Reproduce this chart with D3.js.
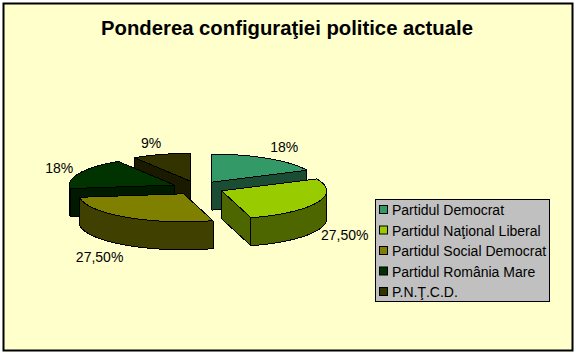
<!DOCTYPE html>
<html>
<head>
<meta charset="utf-8">
<script src="https://cdn.jsdelivr.net/npm/d3@7"></script>
<style>
  html, body { margin: 0; padding: 0; background: #fff; }
  svg { display: block; }
  text { font-family: "Liberation Sans", Arial, sans-serif; fill: #000; }
</style>
</head>
<body>
<div id="chart"></div>
<script>
var parties = ['Partidul Democrat', 'Partidul Naţional Liberal', 'Partidul Social Democrat', 'Partidul România Mare', 'P.N.Ţ.C.D.'];
var shares = [18, 27.5, 27.5, 18, 9];
var shareLabels = ['18%', '27,50%', '27,50%', '18%', '9%'];
var topColors = ['#339966', '#99cc00', '#808000', '#003300', '#333300'];
var sideColors = ['#1a4d33', '#4d6600', '#404000', '#001a00', '#1a1a00'];

var width = 576;
var height = 354;

// pie geometry, fitted to the reference
var cx = 198, cy = 188;
var rx = 105, ry = 28;
var depth = 28;
var explode = 26;
var labelRx = 135, labelRy = 40;
var labelNudgeX = [0, 0, -10, 7, -2];
var labelNudgeY = [-1, 0, 2, 0, 0];

var svg = d3.select('#chart')
  .append('svg')
  .attr('width', width)
  .attr('height', height);

svg.append('rect')
  .attr('x', 3.5)
  .attr('y', 3.5)
  .attr('width', 569)
  .attr('height', 347)
  .attr('fill', '#ffffcc')
  .attr('stroke', '#000')
  .attr('stroke-width', 2);

svg.append('text')
  .attr('x', 287)
  .attr('y', 35)
  .attr('text-anchor', 'middle')
  .attr('font-size', 20.3)
  .attr('font-weight', 'bold')
  .text('Ponderea configuraţiei politice actuale');

var pie = d3.pie().sort(null);
var slices = pie(shares).map(function (d, i) {
  var mid = (d.startAngle + d.endAngle) / 2;
  return {
    index: i,
    start: d.startAngle,
    end: d.endAngle,
    mid: mid,
    x: cx + explode * Math.sin(mid),
    y: cy - explode * (ry / rx) * Math.cos(mid)
  };
});

var line = d3.line();

function rim (s, a, drop) {
  return [s.x + rx * Math.sin(a), s.y - ry * Math.cos(a) + drop];
}

function arcAngles (from, to) {
  var step = Math.PI / 180;
  return d3.range(from, to, step).concat([to]);
}

function topPath (s) {
  var pts = arcAngles(s.start, s.end).map(function (a) { return rim(s, a, 0); });
  return line([[s.x, s.y]].concat(pts)) + 'Z';
}

function radialWall (s, a) {
  return line([[s.x, s.y], rim(s, a, 0), rim(s, a, depth), [s.x, s.y + depth]]) + 'Z';
}

function outerWall (s) {
  var from = Math.max(s.start, Math.PI / 2);
  var to = Math.min(s.end, Math.PI * 3 / 2);
  if (from >= to) return null;
  var angles = arcAngles(from, to);
  var upper = angles.map(function (a) { return rim(s, a, 0); });
  var lower = angles.slice().reverse().map(function (a) { return rim(s, a, depth); });
  return line(upper.concat(lower)) + 'Z';
}

// back slices first, so the nearer ones cover them
var order = slices.slice().sort(function (a, b) { return a.y - b.y; });

var groups = svg.selectAll('.slice')
  .data(order)
  .enter()
  .append('g')
  .attr('class', 'slice')
  .attr('stroke', '#000')
  .attr('stroke-width', 1)
  .attr('stroke-linejoin', 'round')
  .attr('shape-rendering', 'crispEdges');

groups.each(function (s) {
  var g = d3.select(this);
  var side = sideColors[s.index];
  if (Math.sin(s.start) < -1e-6) {
    g.append('path').attr('d', radialWall(s, s.start)).attr('fill', side);
  }
  if (Math.sin(s.end) > 1e-6) {
    g.append('path').attr('d', radialWall(s, s.end)).attr('fill', side);
  }
  var outer = outerWall(s);
  if (outer) {
    g.append('path').attr('d', outer).attr('fill', side);
  }
  g.append('path').attr('d', topPath(s)).attr('fill', topColors[s.index]);
});

svg.selectAll('.share')
  .data(slices)
  .enter()
  .append('text')
  .attr('class', 'share')
  .attr('text-anchor', 'middle')
  .attr('font-size', 14)
  .attr('x', function (s) { return s.x + labelRx * Math.sin(s.mid) + labelNudgeX[s.index]; })
  .attr('y', function (s) {
    var c = Math.cos(s.mid);
    return s.y - labelRy * c + (c < 0 ? depth : 0) + 5 + labelNudgeY[s.index];
  })
  .text(function (s) { return shareLabels[s.index]; });

// legend
var legend = svg.append('g').attr('transform', 'translate(375,199)');

legend.append('rect')
  .attr('x', 0.5)
  .attr('y', 0.5)
  .attr('width', 174)
  .attr('height', 102)
  .attr('fill', '#c0c0c0')
  .attr('stroke', '#000');

var rowY = d3.scalePoint()
  .domain(parties)
  .range([11, 93]);

var rows = legend.selectAll('.row')
  .data(parties)
  .enter()
  .append('g')
  .attr('class', 'row')
  .attr('transform', function (d) { return 'translate(0,' + rowY(d) + ')'; });

rows.append('rect')
  .attr('x', 4.5)
  .attr('y', -4.5)
  .attr('width', 8)
  .attr('height', 8)
  .attr('fill', function (d, i) { return topColors[i]; })
  .attr('stroke', '#000');

rows.append('text')
  .attr('x', 17)
  .attr('y', 5)
  .attr('font-size', 14)
  .text(function (d) { return d; });
</script>
</body>
</html>
